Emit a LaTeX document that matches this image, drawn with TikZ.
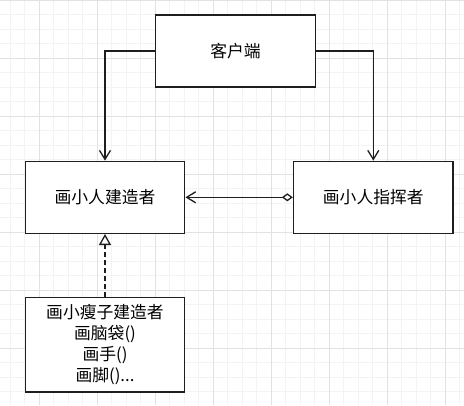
\documentclass[tikz,border=0pt]{standalone}
\usepackage{fontspec}
\setmainfont{Noto Sans CJK SC}
\usepackage{tikz}
\usetikzlibrary{arrows.meta, positioning}
\definecolor{minorline}{RGB}{243, 243, 243}
\definecolor{majorline}{RGB}{226, 226, 226}
\definecolor{boxline}{RGB}{30, 30, 30}

\begin{document}
\begin{tikzpicture}[
  x=1pt, y=-1pt,
  classbox/.style={draw=boxline, fill=white, line width=1.4pt, minimum width=159.5pt, minimum height=72pt, inner sep=2pt, align=center, font=\fontsize{16.8}{21}\selectfont},
  assoc/.style={draw=boxline, line width=1.3pt, -{Straight Barb[length=9pt, width=11pt]}},
  aggreg/.style={draw=boxline, line width=1.3pt, {Diamond[fill=white, length=11pt, width=8pt]}-{Straight Barb[length=9pt, width=11pt]}},
  realize/.style={draw=boxline, line width=1.3pt, dash pattern=on 5pt off 3pt, -{Triangle[open, fill=white, length=11pt, width=12pt]}},
  minorgrid/.style={draw=minorline, line width=0.8pt},
  majorgrid/.style={draw=majorline, line width=0.8pt}
]
  \useasboundingbox (0,0) rectangle (464,405);
  \fill[white] (0,0) rectangle (464,405);

  % Grid
  \foreach \gx in {0,...,31} \draw[minorgrid] ({10.3+14.5*\gx},0) -- ({10.3+14.5*\gx},405);
  \foreach \gy in {0,...,27} \draw[minorgrid] (0,{14.5*\gy}) -- (464,{14.5*\gy});
  \foreach \gx in {0,...,7} \draw[majorgrid] ({39.3+58*\gx},0) -- ({39.3+58*\gx},405);
  \foreach \gy in {0,...,6} \draw[majorgrid] (0,{58*\gy}) -- (464,{58*\gy});

  % Classes
  \node[classbox] (client) at (235.5, 51) {客户端};
  \node[classbox] (builder) at (105, 197.3) {画小人建造者};
  \node[classbox] (director) at (373.3, 197.3) {画小人指挥者};
  \node[classbox, minimum height=94.3pt] (thin) at (105, 344.8) {画小瘦子建造者\\画脑袋()\\画手()\\画脚()...};

  % Relations
  \draw[assoc] (client.west) -| (builder.north);
  \draw[assoc] (client.east) -| (director.north);
  \draw[aggreg] (director.west) -- (builder.east);
  \draw[realize] (thin.north) -- (builder.south);
\end{tikzpicture}
\end{document}
